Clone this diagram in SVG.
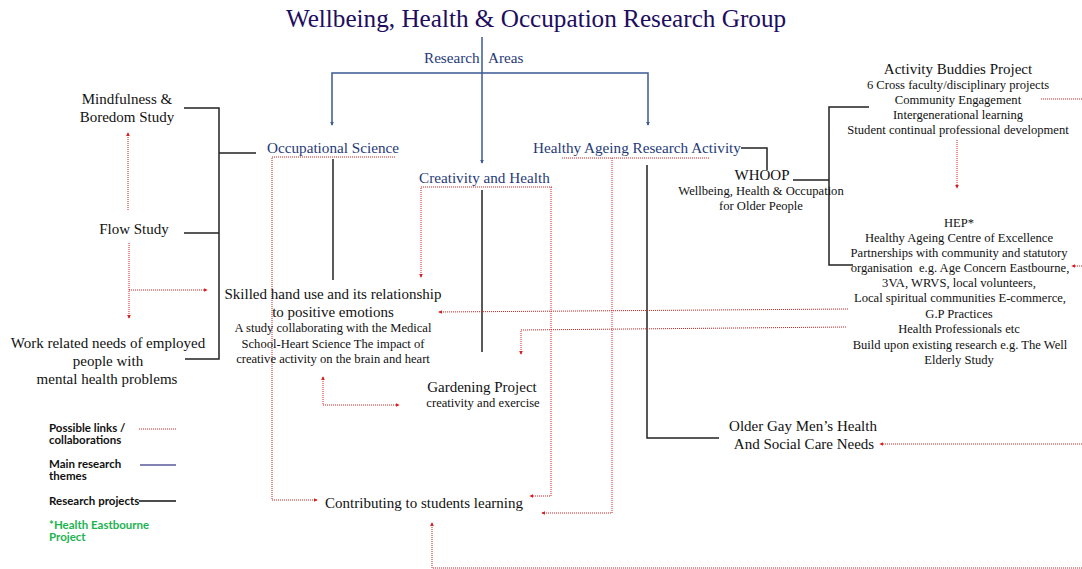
<svg xmlns="http://www.w3.org/2000/svg" width="1082" height="569" viewBox="0 0 1082 569">
<style>
.t{font-family:"Liberation Serif","Times New Roman",serif;fill:#111;text-anchor:middle}
.m{font-size:15px}
.s{font-size:12.6px}
.area{font-family:"Liberation Serif","Times New Roman",serif;font-size:15.2px;fill:#1f3a78}
.title{font-family:"Liberation Serif","Times New Roman",serif;font-size:25.2px;fill:#200d5e;text-anchor:middle}
.leg{font-family:Lato,"Liberation Sans",sans-serif;font-size:11.5px;font-weight:bold;fill:#111}
.blue{stroke:#3d5a94;stroke-width:1.5;fill:none}
.black{stroke:#222;stroke-width:1.5;fill:none}
.red{stroke:#d42020;stroke-width:1;stroke-dasharray:1 1;fill:none}
</style>
<defs>
<marker id="ar" viewBox="0 0 6 6" refX="5" refY="3" markerWidth="4" markerHeight="4" markerUnits="userSpaceOnUse" orient="auto-start-reverse"><path d="M0,0 L6,3 L0,6 z" fill="#d42020"/></marker>
<marker id="ab" viewBox="0 0 6 6" refX="5" refY="3" markerWidth="4" markerHeight="4" markerUnits="userSpaceOnUse" orient="auto"><path d="M0,0 L6,3 L0,6 z" fill="#3d5a94"/></marker>
</defs>
<rect width="1082" height="569" fill="#fff"/>
<g id="connectors">
<path class="blue" d="M482,37 V163" marker-end="url(#ab)"/>
<path class="blue" d="M482,73 H332 V125" marker-end="url(#ab)"/>
<path class="blue" d="M482,73 H648 V125" marker-end="url(#ab)"/>
<path class="black" d="M184,108 H219 V359 H185 M184,233 H219 M219,153 H256"/>
<path class="black" d="M333,159 V280"/>
<path class="black" d="M482,190 V352"/>
<path class="black" d="M647,165 V438 H719"/>
<path class="black" d="M741,148 H767 V170"/>
<path class="black" d="M793,180 H829 M869,107 H829 V265 H853"/>
<path class="red" d="M128,210 V133" marker-end="url(#ar)"/>
<path class="red" d="M129,243 V318" marker-end="url(#ar)"/>
<path class="red" d="M129,290 H207" marker-end="url(#ar)"/>
<path class="red" d="M395,157 H272 V500 H317" marker-end="url(#ar)"/>
<path class="red" d="M552,187 H421 V277" marker-end="url(#ar)"/>
<path class="red" d="M551,187 V496 H530" marker-end="url(#ar)"/>
<path class="red" d="M562,158 H709"/>
<path class="red" d="M612,158 V513 H542" marker-end="url(#ar)"/>
<path class="red" d="M1041,99 H1082"/>
<path class="red" d="M957,140 V188" marker-end="url(#ar)"/>
<path class="red" d="M1082,266 H1072" marker-end="url(#ar)"/>
<path class="red" d="M848,309 L439,312" marker-end="url(#ar)"/>
<path class="red" d="M846,327 L521,330 V354" marker-end="url(#ar)"/>
<path class="red" d="M323,377 V405 H399" marker-start="url(#ar)" marker-end="url(#ar)"/>
<path class="red" d="M1082,568 H432 V523" marker-end="url(#ar)"/>
<path class="red" d="M1082,444 H880" marker-end="url(#ar)"/>
</g>
<g id="title"><text class="title" x="536" y="27">Wellbeing, Health &amp; Occupation Research Group</text></g>
<g id="research-areas"><text class="area" x="424" y="63">Research</text><text class="area" x="488" y="63">Areas</text></g>
<g id="occupational-science"><text class="area" x="267" y="153">Occupational Science</text></g>
<g id="creativity-health"><text class="area" x="419" y="183">Creativity and Health</text></g>
<g id="healthy-ageing"><text class="area" x="533" y="153">Healthy Ageing Research Activity</text></g>
<g id="mindfulness"><text class="t m" x="127" y="104">Mindfulness &amp;</text><text class="t m" x="127" y="122">Boredom Study</text></g>
<g id="flow"><text class="t m" x="134" y="234">Flow Study</text></g>
<g id="work-related"><text class="t m" x="108" y="348">Work related needs of employed</text><text class="t m" x="108" y="366">people with</text><text class="t m" x="107" y="384">mental health problems</text></g>
<g id="skilled-hand"><text class="t m" x="333" y="299">Skilled hand use and its relationship</text><text class="t m" x="333" y="317">to positive emotions</text><text class="t s" x="333" y="332">A study collaborating with the Medical</text><text class="t s" x="333" y="348">School-Heart Science The impact of</text><text class="t s" x="333" y="363">creative activity on the brain and heart</text></g>
<g id="gardening"><text class="t m" x="482" y="392">Gardening Project</text><text class="t s" x="483" y="407">creativity and exercise</text></g>
<g id="contributing"><text class="t m" x="424" y="508">Contributing to students learning</text></g>
<g id="older-gay"><text class="t m" x="803" y="431">Older Gay Men’s Health</text><text class="t m" x="804" y="449">And Social Care Needs</text></g>
<g id="whoop"><text class="t m" x="762" y="180">WHOOP</text><text class="t s" x="761" y="195">Wellbeing, Health &amp; Occupation</text><text class="t s" x="761" y="210">for Older People</text></g>
<g id="activity-buddies"><text class="t m" x="958" y="74">Activity Buddies Project</text><text class="t s" x="958" y="89">6 Cross faculty/disciplinary projects</text><text class="t s" x="958" y="104">Community Engagement</text><text class="t s" x="958" y="119">Intergenerational learning</text><text class="t s" x="958" y="134">Student continual professional development</text></g>
<g id="hep"><text class="t s" x="959" y="227">HEP*</text><text class="t s" x="959" y="242">Healthy Ageing Centre of Excellence</text><text class="t s" x="959" y="257">Partnerships with community and statutory</text><text class="t s" x="960" y="272" xml:space="preserve">organisation  e.g. Age Concern Eastbourne,</text><text class="t s" x="959" y="287">3VA, WRVS, local volunteers,</text><text class="t s" x="960" y="302">Local spiritual communities E-commerce,</text><text class="t s" x="959" y="318">G.P Practices</text><text class="t s" x="959" y="333">Health Professionals etc</text><text class="t s" x="960" y="349">Build upon existing research e.g. The Well</text><text class="t s" x="959" y="364">Elderly Study</text></g>
<g id="legend">
<text class="leg" x="49" y="432">Possible links /</text><text class="leg" x="49" y="444">collaborations</text>
<path class="red" d="M139,429 H176"/>
<text class="leg" x="49" y="468">Main research</text><text class="leg" x="49" y="480">themes</text>
<path d="M140,465 H176" stroke="#5a5a9a" stroke-width="1.5"/>
<text class="leg" x="49" y="505">Research projects</text>
<path d="M139,501 H176" stroke="#111" stroke-width="1.5"/>
<text class="leg" x="49" y="529" style="fill:#1db34f">*Health Eastbourne</text><text class="leg" x="49" y="541" style="fill:#1db34f">Project</text>
</g>
</svg>
